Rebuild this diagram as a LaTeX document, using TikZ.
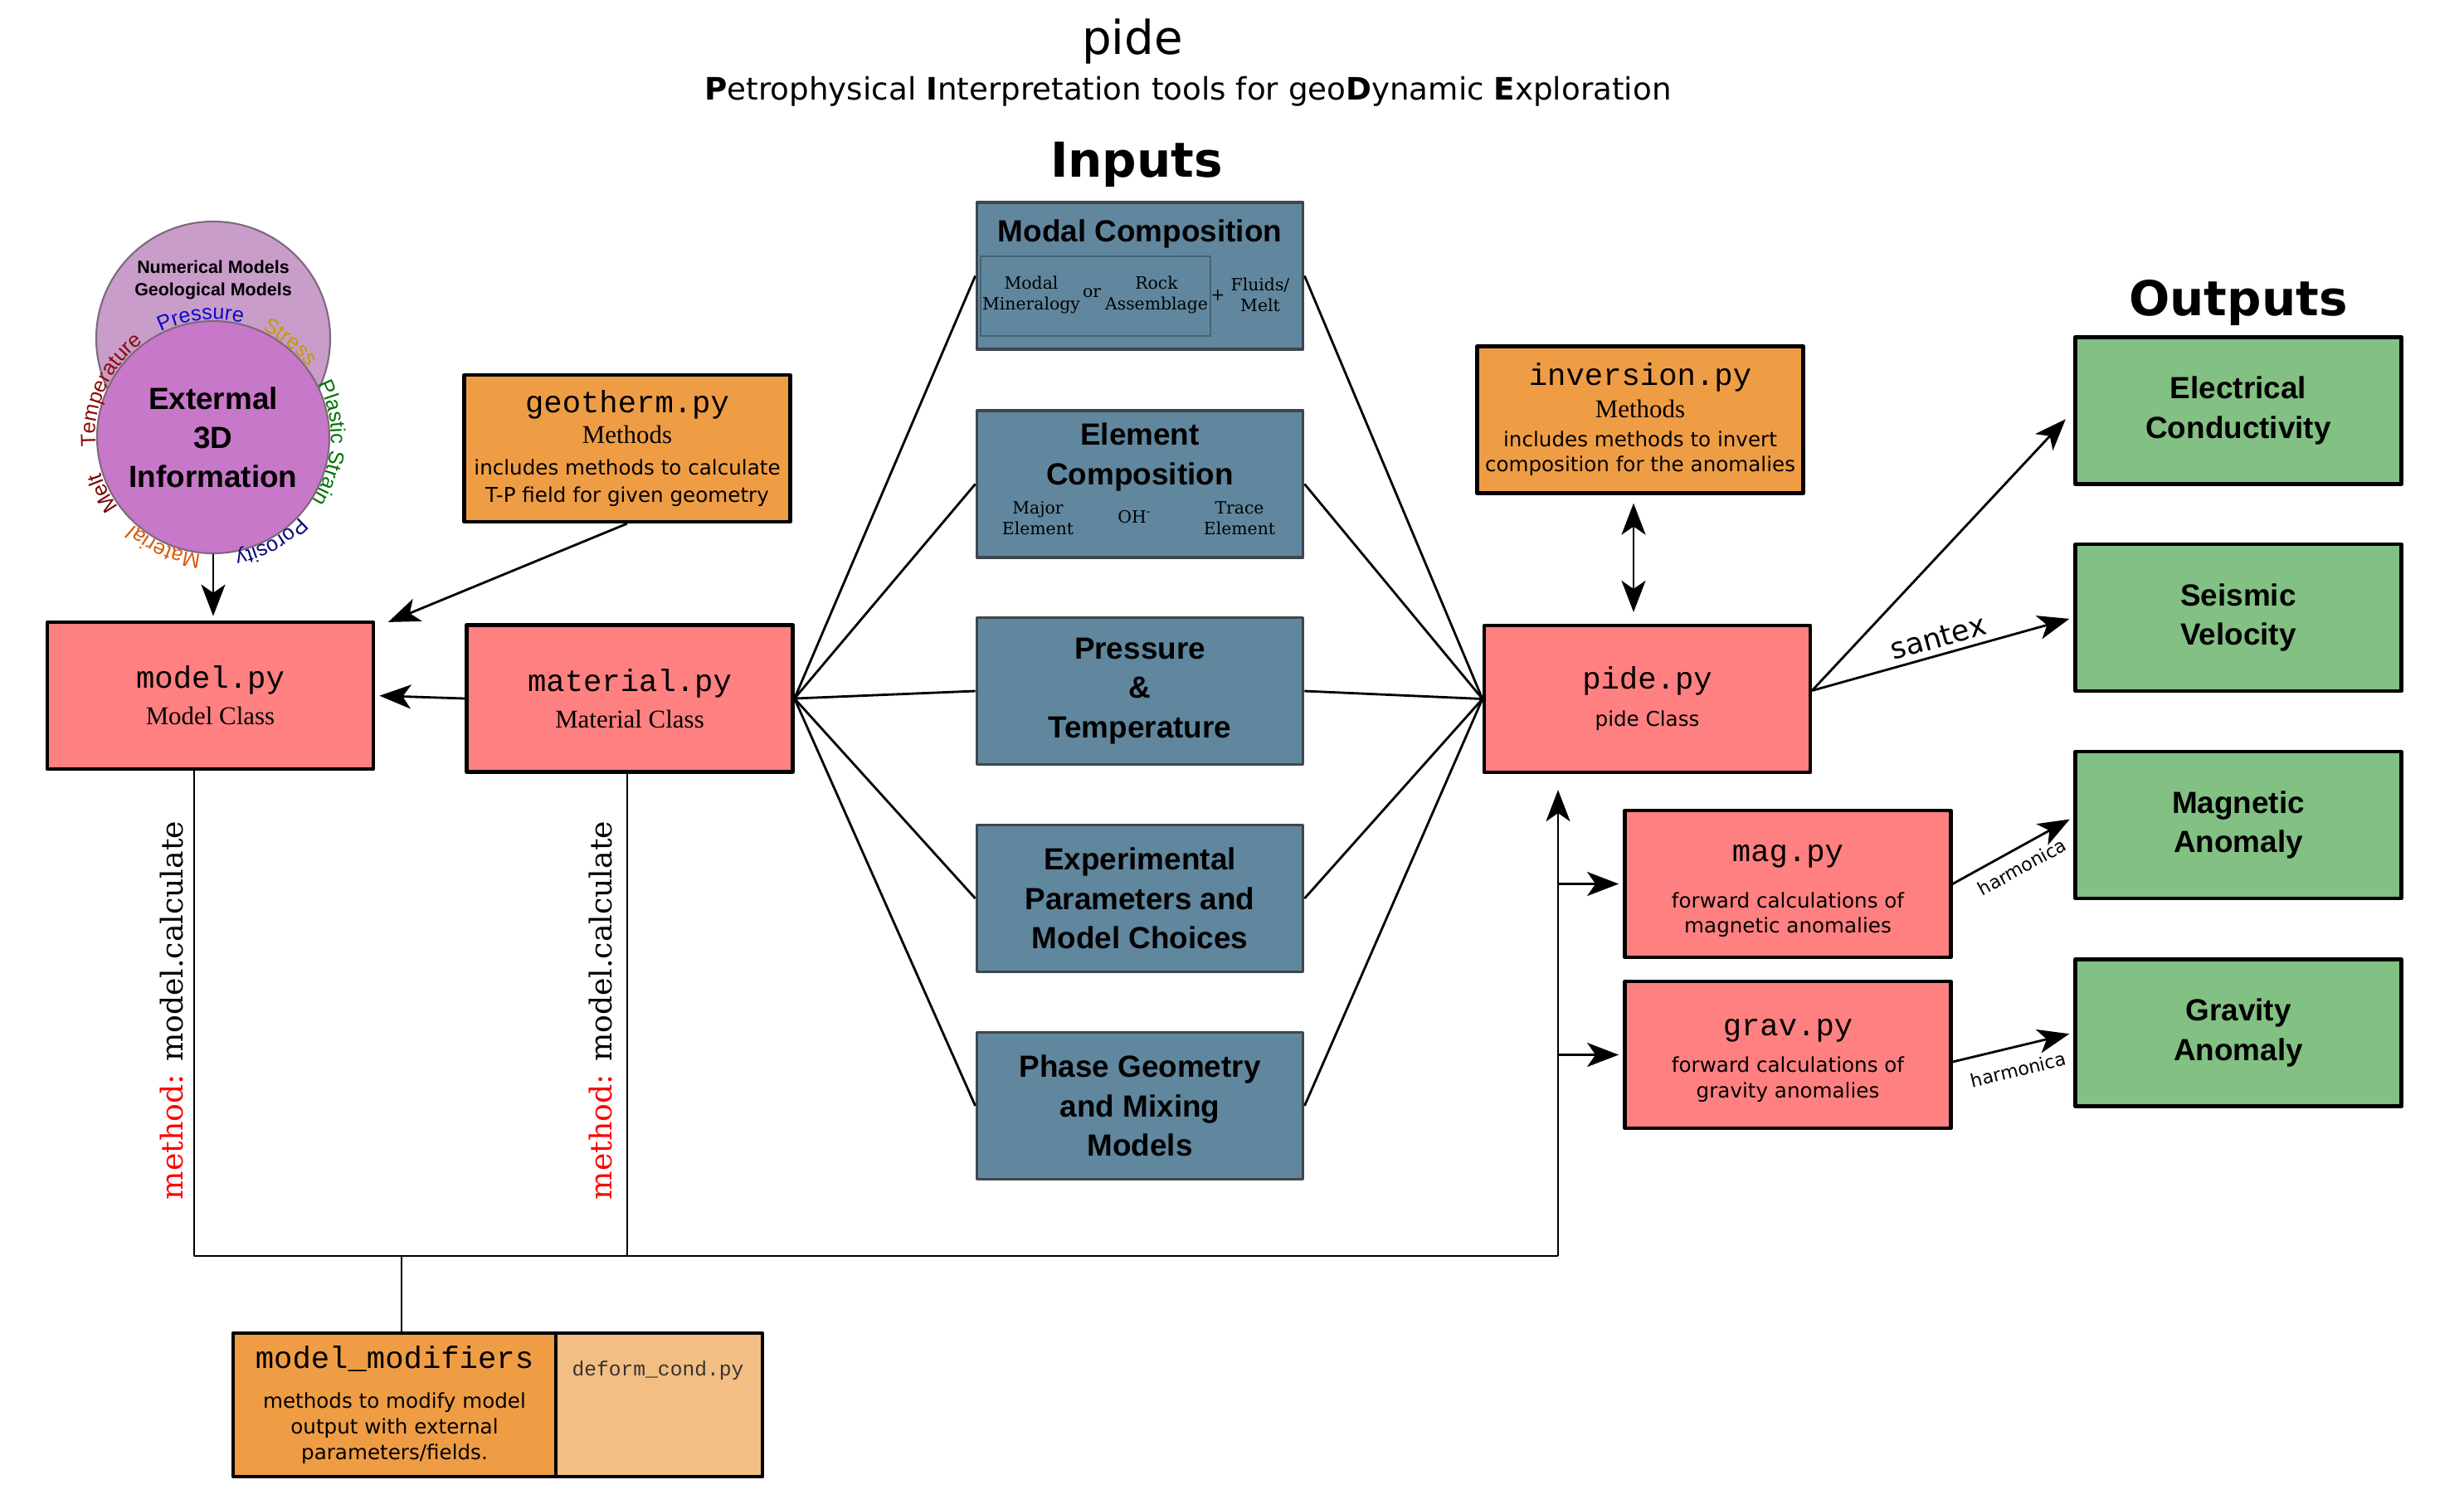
\documentclass[tikz,border=0pt]{standalone}
\usepackage{fontspec}
\setmainfont{DejaVu Sans}
\newfontfamily\arialfont{Liberation Sans}
\newfontfamily\codefont{Liberation Mono}
\newfontfamily\timesfont{Liberation Serif}
\newfontfamily\dvserif{DejaVu Serif}
\usetikzlibrary{arrows.meta,decorations.text}

\definecolor{pyred}{RGB}{255,128,128}
\definecolor{helporange}{RGB}{239,157,69}
\definecolor{lightorange}{RGB}{243,190,131}
\definecolor{inblue}{RGB}{96,135,158}
\definecolor{inedge}{RGB}{62,70,78}
\definecolor{subedge}{RGB}{72,98,116}
\definecolor{outgreen}{RGB}{131,192,131}
\definecolor{circtop}{RGB}{201,157,201}
\definecolor{circbot}{RGB}{200,120,200}
\definecolor{circedge}{RGB}{125,105,125}
\definecolor{cpres}{RGB}{10,10,205}
\definecolor{cstress}{RGB}{195,155,0}
\definecolor{cplast}{RGB}{0,115,0}
\definecolor{cporo}{RGB}{10,10,120}
\definecolor{cmat}{RGB}{215,90,10}
\definecolor{cmelt}{RGB}{120,0,0}
\definecolor{ctemp}{RGB}{140,10,10}

\newcommand{\fsz}[2]{\fontsize{#1}{#2}\selectfont}
\newcommand{\pyname}[1]{{\codefont\fsz{10.6}{12}#1}}
\newcommand{\classname}[1]{{\timesfont\fsz{8.8}{10}#1}}
\newcommand{\curvefont}{\arialfont\fsz{7.2}{8.6}}

\begin{document}
\begin{tikzpicture}[line join=round, >={Stealth[length=0.38cm,width=0.29cm,inset=0.1cm]}]
	\tikzset{
		pybox/.style={draw, line width=1.2pt, fill=pyred, minimum width=3.93cm, minimum height=1.77cm, inner sep=0pt, align=center, font=\fsz{7}{8.8}},
		helpbox/.style={pybox, fill=helporange},
		inbox/.style={draw=inedge, line width=1.1pt, fill=inblue, minimum width=3.93cm, minimum height=1.77cm, inner sep=0pt, align=center, font=\arialfont\bfseries\fsz{10.5}{13.5}},
		outbox/.style={inbox, draw=black, line width=1.2pt, fill=outgreen},
		intitle/.style={inner sep=0pt, align=center, font=\arialfont\bfseries\fsz{10.5}{13.6}},
		subbox/.style={draw=subedge, line width=0.5pt, minimum width=2.77cm, minimum height=0.96cm, inner sep=0pt},
		sublabel/.style={align=center, inner sep=0pt, font=\dvserif\fsz{5.8}{7.1}},
		headline/.style={anchor=base, inner sep=0pt},
		calclabel/.style={rotate=90, inner sep=0pt, font=\dvserif\fsz{10.3}{12}},
		harmlabel/.style={below, sloped, font=\fsz{6.3}{8}},
		wire/.style={line width=0.8pt},
		arr/.style={wire, ->, shorten >=1.5pt}
	}
	\useasboundingbox (0,0) rectangle (29.70,-18.12);
	% titles
	\node[headline, font=\fsz{16}{19}] (title) at (13.65,-0.65) {pide};
	\node[headline, font=\fsz{10.6}{12}] (subtitle) at (14.32,-1.20) {\textbf{P}etrophysical \textbf{I}nterpretation tools for geo\textbf{D}ynamic \textbf{E}xploration};
	\node[headline, font=\bfseries\fsz{16.5}{19}] (inputs) at (13.70,-2.13) {Inputs};
	\node[headline, font=\bfseries\fsz{16.5}{19}] (outputs) at (26.98,-3.80) {Outputs};
	% external information
	\node[circle, draw=circedge, line width=0.6pt, fill=circtop, minimum size=2.82cm, inner sep=0pt] (geo) at (2.57,-4.08) {};
	\node[font=\arialfont\bfseries\fsz{6.1}{7.7}, align=center, inner sep=0pt] (geotext) at (2.57,-3.375) {Numerical Models\\Geological Models};
	\node[circle, draw=circedge, line width=0.6pt, fill=circbot, minimum size=2.80cm, inner sep=0pt, align=center, font=\arialfont\bfseries\fsz{10.5}{13.4}] (ext) at (2.57,-5.27) {Extermal\\3D\\Information};
	\foreach \a/\b/\col/\word in {118/74/cpres/Pressure, 68/34/cstress/Stress, 30/-36/cplast/Plastic Strain, -40/-82/cporo/Porosity, -92/-136/cmat/Material, -140/-166/cmelt/Melt, 186/125/ctemp/Temperature}
		\path[decorate, decoration={text along path, text align=center, text color=\col, text/.expanded={|\noexpand\curvefont|\word}}] ([shift={(\a:1.42)}]ext.center) arc[start angle=\a, end angle=\b, radius=1.42];
	% python modules
	\node[pybox] (model) at (2.535,-8.385) {\pyname{model.py}\\[3.7pt]\classname{Model Class}};
	\node[pybox] (material) at (7.59,-8.42) {\pyname{material.py}\\[3.7pt]\classname{Material Class}};
	\node[helpbox] (geotherm) at (7.56,-5.405) {\pyname{geotherm.py}\\[1.7pt]\classname{Methods}\\[2pt]includes methods to calculate\\[0.6pt]T-P field for given geometry};
	\node[pybox] (pide) at (19.855,-8.425) {\pyname{pide.py}\\[4pt]pide Class};
	\node[helpbox] (inversion) at (19.77,-5.06) {\pyname{inversion.py}\\[2.3pt]\classname{Methods}\\[0.9pt]includes methods to invert\\composition for the anomalies};
	\node[pybox, text height=1.24cm] (mag) at (21.55,-10.655) {\pyname{mag.py}\\[7.1pt]forward calculations of\\magnetic anomalies};
	\node[pybox, text height=1.09cm] (grav) at (21.55,-12.715) {\pyname{grav.py}\\[3.7pt]forward calculations of\\gravity anomalies};
	\node[helpbox, minimum width=3.89cm, minimum height=1.73cm] (mods) at (4.755,-16.935) {\pyname{model\_modifiers}\\[4.7pt]methods to modify model\\output with external\\parameters/fields.};
	\node[helpbox, fill=lightorange, minimum width=2.49cm, minimum height=1.73cm] (deform) at (7.945,-16.935) {};
	\node[inner sep=0pt, text=black!80, font=\codefont\fsz{7}{8}] (deformtext) at (7.93,-16.52) {deform\_cond.py};
	% inputs
	\node[inbox] (modal) at (13.74,-3.325) {};
	\node[intitle, anchor=base] (modaltitle) at (13.74,-2.91) {Modal Composition};
	\node[subbox] (modalsub) at (13.205,-3.57) {};
	\node[sublabel] (mineral) at (12.43,-3.555) {Modal\\Mineralogy};
	\node[sublabel] (orword) at (13.16,-3.53) {or};
	\node[sublabel] (rock) at (13.94,-3.555) {Rock\\Assemblage};
	\node[sublabel] (plus) at (14.68,-3.56) {+};
	\node[sublabel] (fluids) at (15.19,-3.555) {Fluids/\\Melt};
	\node[inbox] (element) at (13.74,-5.835) {};
	\node[intitle] (elemtitle) at (13.74,-5.51) {Element\\Composition};
	\node[sublabel] (major) at (12.51,-6.245) {Major\\Element};
	\node[sublabel] (ohion) at (13.68,-6.23) {OH\textsuperscript{-}};
	\node[sublabel] (trace) at (14.94,-6.245) {Trace\\Element};
	\node[inbox] (pt) at (13.74,-8.33) {Pressure\\\&\\Temperature};
	\node[inbox] (exper) at (13.74,-10.83) {Experimental\\Parameters and\\Model Choices};
	\node[inbox] (phase) at (13.74,-13.33) {Phase Geometry\\and Mixing\\Models};
	% outputs
	\node[outbox] (cond) at (26.98,-4.95) {Electrical\\Conductivity};
	\node[outbox] (seis) at (26.98,-7.445) {Seismic\\Velocity};
	\node[outbox] (magan) at (26.98,-9.945) {Magnetic\\Anomaly};
	\node[outbox] (gravan) at (26.98,-12.45) {Gravity\\Anomaly};
	% connectors
	\draw[arr] (ext.south) -- (ext.south |- model.north);
	\draw[arr] (geotherm.south) -- ([xshift=0.11cm,yshift=-0.04cm]model.north east);
	\draw[arr] (material.west) -- (model.east);
	\foreach \n in {modal,element,pt,exper,phase}{
		\draw[wire] (material.east) -- (\n.west);
		\draw[wire] (\n.east) -- (pide.west);
	}
	\draw[wire, <->, shorten <=0.1cm, shorten >=0.14cm] ([xshift=-0.08cm]inversion.south) -- ([xshift=-0.08cm]inversion.south |- pide.north);
	\draw[arr, shorten >=0.14cm] ([yshift=0.1cm]pide.east) -- (cond.west);
	\draw[arr] ([yshift=0.1cm]pide.east) -- node[above, sloped, inner sep=2pt, font=\fsz{10}{12}] (santex) {santex} (seis.west);
	\draw[arr] (mag.east) -- node[harmlabel, inner sep=3.5pt] (harmmag) {harmonica} ([yshift=0.095cm]magan.west);
	\draw[arr] ([yshift=-0.085cm]grav.east) -- node[harmlabel, inner sep=5pt] (harmgrav) {harmonica} (gravan.west);
	% model.calculate bus
	\coordinate (busl) at (2.34,-15.14);
	\coordinate (busr) at (18.78,-15.14);
	\draw[wire] (model.south -| busl) -- (busl) -- (busr);
	\draw[wire] ([xshift=-0.03cm]material.south) -- ([xshift=-0.03cm]material.south |- busl);
	\draw[arr, shorten >=0.19cm] (busr) -- (busr |- pide.south);
	\draw[arr] (busr |- mag.west) -- (mag.west);
	\draw[arr] (busr |- grav.west) -- (grav.west);
	\draw[wire] ([xshift=0.085cm]mods.north) -- ([xshift=0.085cm]mods.north |- busl);
	\node[calclabel] (calcmodel) at (2.07,-12.18) {\textcolor{red}{method:} model.calculate};
	\node[calclabel] (calcmat) at (7.24,-12.18) {\textcolor{red}{method:} model.calculate};
\end{tikzpicture}
\end{document}
